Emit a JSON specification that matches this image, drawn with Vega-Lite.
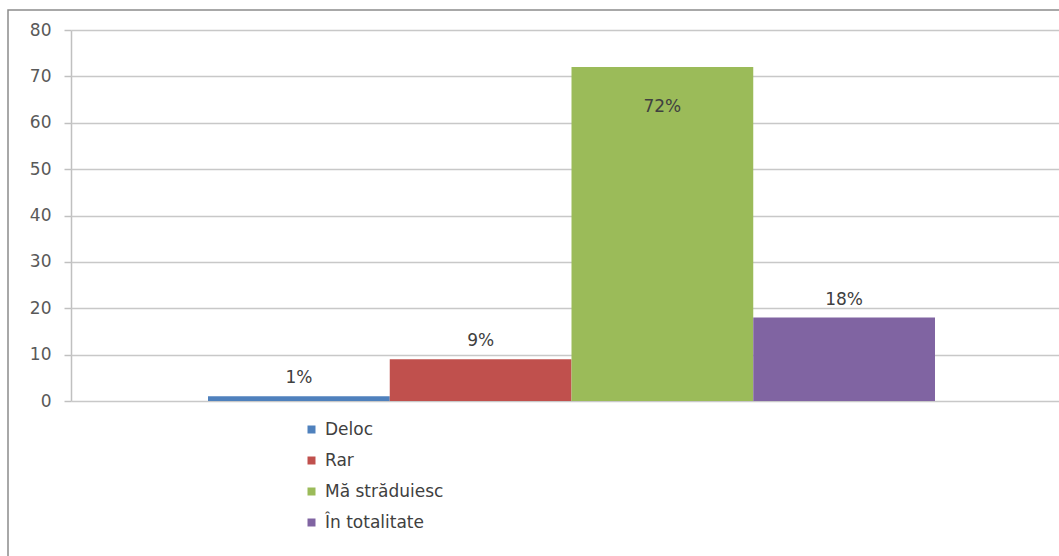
{
  "$schema": "https://vega.github.io/schema/vega-lite/v6.json",
  "autosize": {"type": "none"},
  "padding": {"left": 8, "top": 10, "right": 0, "bottom": 0},
  "width": 1100,
  "height": 600,
  "background": "white",
  "config": {
    "view": {"stroke": "#8c8c8c", "strokeWidth": 1.5},
    "font": "DejaVu Sans"
  },
  "data": {
    "values": [
      {"raspuns": "Deloc", "procent": 1, "eticheta": "1%"},
      {"raspuns": "Rar", "procent": 9, "eticheta": "9%"},
      {"raspuns": "Mă străduiesc", "procent": 72, "eticheta": "72%"},
      {"raspuns": "În totalitate", "procent": 18, "eticheta": "18%"}
    ]
  },
  "layer": [
    {
      "mark": {"type": "bar"},
      "encoding": {
        "x": {
          "field": "raspuns", "type": "nominal",
          "sort": ["Deloc", "Rar", "Mă străduiesc", "În totalitate"],
          "scale": {"range": [200, 927], "paddingInner": 0, "paddingOuter": 0},
          "axis": null
        },
        "y": {
          "field": "procent", "type": "quantitative",
          "scale": {"domain": [0, 80], "range": [391, 20], "nice": false},
          "axis": {
            "orient": "left", "offset": -63, "title": null,
            "values": [0, 10, 20, 30, 40, 50, 60, 70, 80],
            "grid": false, "tickSize": 7, "tickColor": "#c0c0c0", "tickWidth": 1.5,
            "domainColor": "#c0c0c0", "domainWidth": 1.5,
            "labelFont": "DejaVu Sans", "labelFontSize": 17, "labelColor": "#595959",
            "labelPadding": 13
          }
        },
        "color": {
          "field": "raspuns", "type": "nominal",
          "scale": {
            "domain": ["Deloc", "Rar", "Mă străduiesc", "În totalitate"],
            "range": ["#4F81BD", "#C0504D", "#9BBB59", "#8064A2"]
          },
          "legend": {
            "title": null, "orient": "none", "legendX": 295, "legendY": 411,
            "symbolType": "square", "symbolSize": 64, "symbolStrokeWidth": 0,
            "labelFont": "DejaVu Sans", "labelFontSize": 17, "labelColor": "#404040",
            "labelOffset": 5, "rowPadding": 13
          }
        }
      }
    },
    {
      "transform": [{"filter": "datum.procent < 50"}],
      "mark": {"type": "text", "baseline": "bottom", "dy": -9, "fontSize": 17, "color": "#404040", "font": "DejaVu Sans"},
      "encoding": {
        "x": {"field": "raspuns", "type": "nominal", "sort": ["Deloc", "Rar", "Mă străduiesc", "În totalitate"], "axis": null},
        "y": {
          "field": "procent", "type": "quantitative",
          "axis": {
            "orient": "right", "offset": -1037, "title": null,
            "values": [0, 10, 20, 30, 40, 50, 60, 70, 80],
            "grid": false, "labels": false, "domain": false,
            "tickSize": 1100, "tickColor": "#c8c8c8", "tickWidth": 1.5
          }
        },
        "text": {"field": "eticheta"}
      }
    },
    {
      "transform": [{"filter": "datum.procent >= 50"}],
      "mark": {"type": "text", "baseline": "top", "dy": 32, "fontSize": 17, "color": "#404040", "font": "DejaVu Sans"},
      "encoding": {
        "x": {"field": "raspuns", "type": "nominal", "sort": ["Deloc", "Rar", "Mă străduiesc", "În totalitate"], "axis": null},
        "y": {"field": "procent", "type": "quantitative", "axis": null},
        "text": {"field": "eticheta"}
      }
    }
  ],
  "resolve": {"axis": {"y": "independent"}}
}
